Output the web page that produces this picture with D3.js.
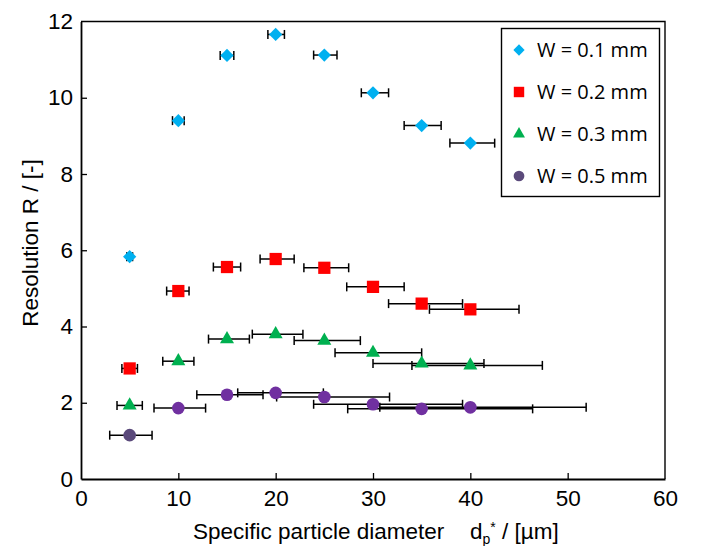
<!DOCTYPE html>
<html lang="en">
<head>
    <meta charset="UTF-8">
    <title>Resolution vs particle diameter</title>
    <script src="https://d3js.org/d3.v7.min.js"></script>
    <style>
        body { margin: 0; background: #fff; }
        .tick text { font-family: "Liberation Sans", Arial, sans-serif; font-size: 22.5px; fill: #000; }
    </style>
</head>
<body>
<svg id="chart"></svg>
<script>
// particle diameters (x) of every measurement
var diameters = [5, 10, 15, 20, 25, 30, 35, 40];
var seriesNames = ["W = 0.1 mm", "W = 0.2 mm", "W = 0.3 mm", "W = 0.5 mm"];

// resolution values per channel width
var res01 = [5.83, 9.40, 11.11, 11.66, 11.12, 10.13, 9.27, 8.81];
var res02 = [2.90, 4.93, 5.56, 5.77, 5.54, 5.04, 4.60, 4.45];
var res03 = [1.93, 3.09, 3.67, 3.80, 3.63, 3.31, 3.03, 2.98];
var res05 = [1.15, 1.86, 2.21, 2.26, 2.15, 1.96, 1.84, 1.88];

// horizontal error bars (low / high end of diameter)
var lo01 = [4.7, 9.4, 14.3, 19.2, 23.9, 28.8, 33.2, 37.9];
var hi01 = [5.3, 10.6, 15.7, 20.9, 26.3, 31.6, 37.0, 42.5];
var lo02 = [4.2, 8.8, 13.6, 18.4, 22.9, 27.3, 31.6, 35.8];
var hi02 = [5.8, 11.1, 16.4, 21.9, 27.5, 33.2, 39.2, 45.0];
var lo03 = [3.7, 8.4, 13.1, 17.6, 21.9, 26.1, 30.0, 34.0];
var hi03 = [6.3, 11.6, 17.3, 22.8, 28.7, 35.0, 41.4, 47.4];
var lo05 = [2.95, 7.5, 11.9, 16.1, 20.1, 23.9, 27.4, 30.7];
var hi05 = [7.3, 12.8, 18.7, 24.9, 31.7, 39.2, 46.4, 51.9];

var xTicks = [0, 10, 20, 30, 40, 50, 60];
var yTicks = [0, 2, 4, 6, 8, 10, 12];

var width = 712, height = 546;
var svg = d3.select("#chart").attr("width", width).attr("height", height);

var x = d3.scaleLinear().domain([0, 60]).range([81, 665]);
var y = d3.scaleLinear().domain([0, 12]).range([479, 21.5]);

// frame (top + right)
svg.append("path")
    .attr("d", "M" + x(0) + "," + y(12) + "H" + x(60) + "V" + y(0))
    .attr("fill", "none").attr("stroke", "#000").attr("stroke-width", 1.4);

// axes with inward ticks
var xAxis = svg.append("g")
    .attr("transform", "translate(0," + y(0) + ")")
    .call(d3.axisBottom(x).tickValues(xTicks).tickSize(-6).tickPadding(11).tickSizeOuter(0));
var yAxis = svg.append("g")
    .attr("transform", "translate(" + x(0) + ",0)")
    .call(d3.axisLeft(y).tickValues(yTicks).tickSize(-6).tickPadding(8).tickSizeOuter(0));
[xAxis, yAxis].forEach(function(a) {
    a.select(".domain").attr("stroke-width", 1.8);
    a.selectAll(".tick line").attr("stroke-width", 1.3);
});
xAxis.selectAll(".tick").filter(function(d) { return d === 60 || d === 0; }).select("line").remove();
yAxis.selectAll(".tick").filter(function(d) { return d === 12 || d === 0; }).select("line").remove();

// series table
var series = [
    {name: seriesNames[0], res: res01, lo: lo01, hi: hi01, color: "#00B0F0", shape: "diamond"},
    {name: seriesNames[1], res: res02, lo: lo02, hi: hi02, color: "#FF0000", shape: "square"},
    {name: seriesNames[2], res: res03, lo: lo03, hi: hi03, color: "#00B050", shape: "triangle"},
    {name: seriesNames[3], res: res05, lo: lo05, hi: hi05, color: "#7030A0", shape: "circle"}
];

function symbolPath(shape) {
    if (shape === "diamond") return d3.symbol(d3.symbolSquare, 88)();
    if (shape === "square") return d3.symbol(d3.symbolSquare, 150)();
    if (shape === "triangle") return d3.symbol(d3.symbolTriangle, 85)();
    return d3.symbol(d3.symbolCircle, 125)();
}

series.forEach(function(s) {
    var pts = diameters.map(function(d, i) {
        return {x: d, y: s.res[i], lo: s.lo[i], hi: s.hi[i], i: i};
    });
    var g = svg.append("g");
    var bars = g.selectAll(".err").data(pts).enter().append("g")
        .attr("stroke", "#000").attr("stroke-width", 1.5);
    bars.append("line")
        .attr("x1", function(d) { return x(d.lo); })
        .attr("x2", function(d) { return x(d.hi); })
        .attr("y1", function(d) { return y(d.y); })
        .attr("y2", function(d) { return y(d.y); });
    bars.append("line")
        .attr("x1", function(d) { return x(d.lo); })
        .attr("x2", function(d) { return x(d.lo); })
        .attr("y1", function(d) { return y(d.y) - 4.5; })
        .attr("y2", function(d) { return y(d.y) + 4.5; });
    bars.append("line")
        .attr("x1", function(d) { return x(d.hi); })
        .attr("x2", function(d) { return x(d.hi); })
        .attr("y1", function(d) { return y(d.y) - 4.5; })
        .attr("y2", function(d) { return y(d.y) + 4.5; });

    g.selectAll(".mark").data(pts).enter().append("path")
        .attr("d", symbolPath(s.shape))
        .attr("transform", function(d) {
            return "translate(" + x(d.x) + "," + y(d.y) + ")" + (s.shape === "diamond" ? " rotate(45)" : "");
        })
        // first 0.5 mm point is drawn in the darker legend purple
        .attr("fill", function(d) { return (s.shape === "circle" && d.i === 0) ? "#5B4A7B" : s.color; });
});

// legend
var legend = svg.append("g");
legend.append("rect")
    .attr("x", 501.5).attr("y", 28.5).attr("width", 158).attr("height", 168)
    .attr("fill", "#fff").attr("stroke", "#000").attr("stroke-width", 1.4);
var legendColors = ["#00B0F0", "#FF0000", "#00B050", "#5B4A7B"];
series.forEach(function(s, i) {
    var cy = 50 + i * 42;
    legend.append("path")
        .attr("d", symbolPath(s.shape))
        .attr("transform", "translate(519," + cy + ")" + (s.shape === "diamond" ? " rotate(45)" : "") + " scale(0.85)")
        .attr("fill", legendColors[i]);
    legend.append("text")
        .attr("x", 537).attr("y", cy + 7)
        .attr("font-family", "'Open Sans', sans-serif").attr("font-size", 20)
        .text(s.name);
});

// axis titles
svg.append("text")
    .attr("transform", "translate(38,243) rotate(-90)")
    .attr("text-anchor", "middle")
    .attr("font-family", "'Liberation Sans', Arial, sans-serif").attr("font-size", 22.5)
    .text("Resolution R / [-]");

var xt = svg.append("text")
    .attr("x", 193).attr("y", 539)
    .attr("font-family", "'Liberation Sans', Arial, sans-serif").attr("font-size", 22.5);
xt.append("tspan").text("Specific particle diameter");
xt.append("tspan").attr("x", 470).text("d");
xt.append("tspan").attr("font-size", 14).attr("dy", 5).text("p");
xt.append("tspan").attr("font-size", 14).attr("dy", -12).text("*");
xt.append("tspan").attr("dy", 7).text(" / [µm]");
</script>
</body>
</html>
